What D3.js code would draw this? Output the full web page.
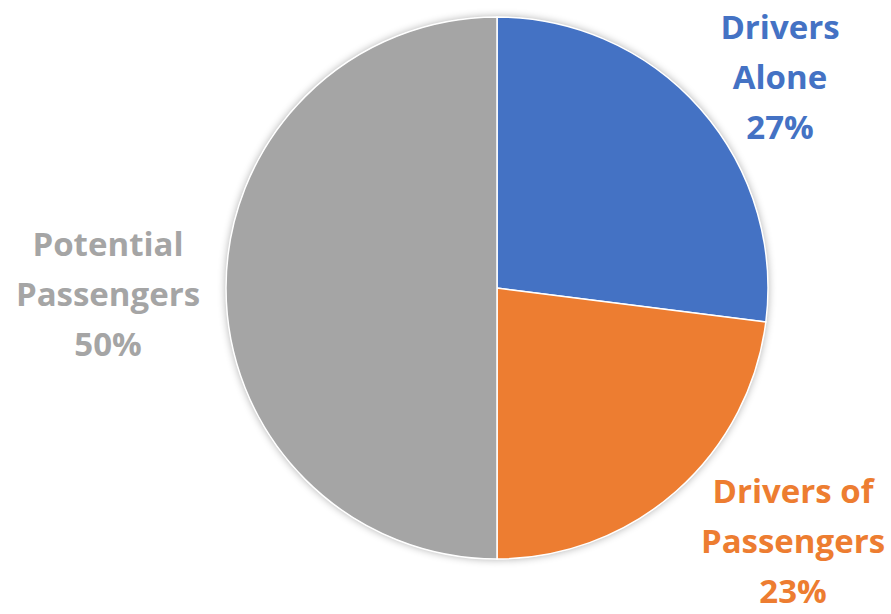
<!DOCTYPE html>
<html>
<head>
<meta charset="utf-8">
<script src="https://cdn.jsdelivr.net/npm/d3@7"></script>
<style>
  html, body { margin: 0; padding: 0; background: #fff; }
</style>
</head>
<body>
<script>
// Share of commuters, drawn clockwise from 12 o'clock
const categories = ["Drivers Alone", "Drivers of Passengers", "Potential Passengers"];
const values = [27, 23, 50];
const colors = ["#4472C4", "#ED7D31", "#A5A5A5"];
const labelLines = [
  ["Drivers", "Alone", "27%"],
  ["Drivers of", "Passengers", "23%"],
  ["Potential", "Passengers", "50%"]
];

const width = 891, height = 614;
const cx = 497, cy = 288, radius = 271;

const svg = d3.select("body").append("svg")
  .attr("width", width)
  .attr("height", height)
  .attr("font-family", "'Open Sans', sans-serif");

const defs = svg.append("defs");
const shadow = defs.append("filter").attr("id", "shadow")
  .attr("x", "-10%").attr("y", "-10%").attr("width", "120%").attr("height", "120%");
shadow.append("feGaussianBlur").attr("in", "SourceAlpha").attr("stdDeviation", 4);
shadow.append("feOffset").attr("dx", 0).attr("dy", 0).attr("result", "blur");
shadow.append("feComponentTransfer").append("feFuncA").attr("type", "linear").attr("slope", 0.35);
const merge = shadow.append("feMerge");
merge.append("feMergeNode");
merge.append("feMergeNode").attr("in", "SourceGraphic");

const pie = d3.pie().sort(null).value((d) => d)(values);
const arc = d3.arc().innerRadius(0).outerRadius(radius);

const g = svg.append("g").attr("transform", `translate(${cx},${cy})`);

g.append("circle").attr("r", radius).attr("fill", "#fff").attr("filter", "url(#shadow)");

g.selectAll("path")
  .data(pie)
  .join("path")
  .attr("d", arc)
  .attr("fill", (d, i) => colors[i])
  .attr("stroke", "#fff")
  .attr("stroke-width", 1.5);

// Label blocks: centre x and first baseline (y) for each slice
const labelPos = [
  { x: 780, y: 39 },
  { x: 793, y: 503 },
  { x: 108, y: 256 }
];
const lineH = 50;

labelLines.forEach((lines, i) => {
  const t = svg.append("text")
    .attr("x", labelPos[i].x)
    .attr("y", labelPos[i].y)
    .attr("text-anchor", "middle")
    .attr("font-size", 33)
    .attr("font-weight", "bold")
    .attr("fill", colors[i]);
  lines.forEach((line, j) => {
    t.append("tspan")
      .attr("x", labelPos[i].x)
      .attr("dy", j === 0 ? 0 : lineH)
      .text(line);
  });
});
</script>
</body>
</html>
